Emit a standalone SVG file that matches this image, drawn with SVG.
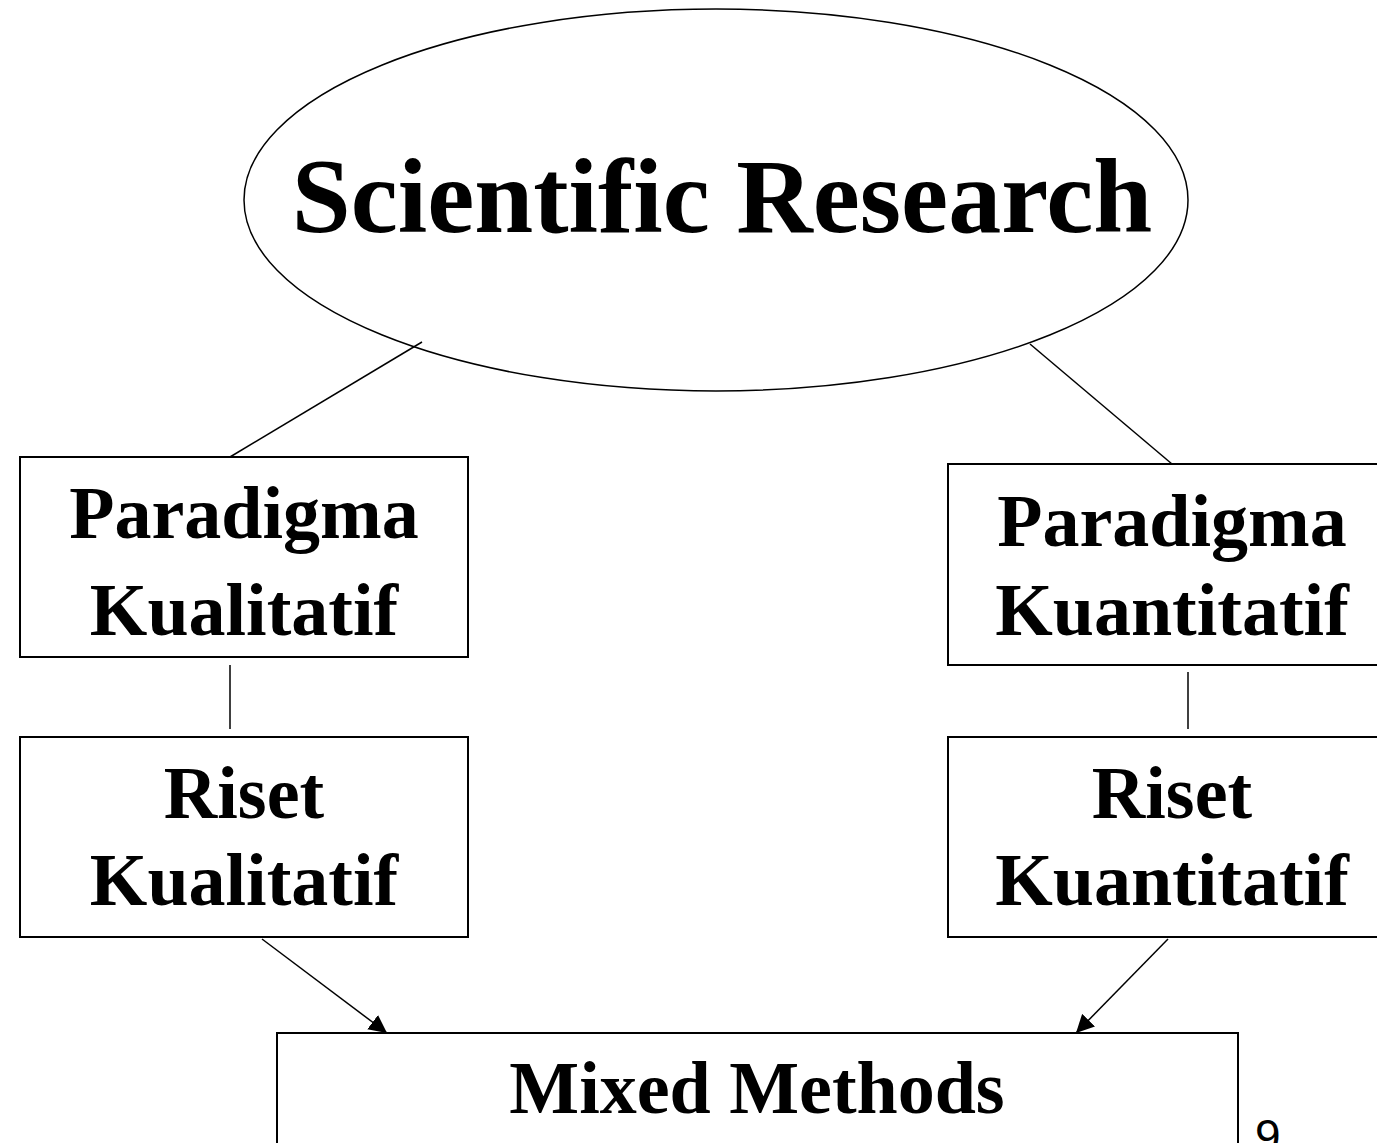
<svg xmlns="http://www.w3.org/2000/svg" width="1377" height="1143" viewBox="0 0 1377 1143">
<style>
.box{fill:#fff;stroke:#000;stroke-width:2}
.lbl{font-family:"Liberation Serif","Times New Roman",serif;font-weight:bold;fill:#000;text-anchor:middle}
.con{stroke:#000;stroke-width:1.5;fill:none}
</style>
<defs>
<marker id="ah" viewBox="0 0 10 10" refX="10" refY="5" markerWidth="18" markerHeight="18" markerUnits="userSpaceOnUse" orient="auto">
<path d="M0,0 L10,5 L0,10 z" fill="#000"/>
</marker>
</defs>
<rect width="1377" height="1143" fill="#fff"/>
<g id="scientific-research">
<ellipse cx="716" cy="200" rx="472" ry="191" fill="#fff" stroke="#000" stroke-width="1.5"/>
<text class="lbl" x="722" y="232" font-size="106">Scientific Research</text>
</g>
<g id="connectors">
<line class="con" x1="422" y1="342" x2="230" y2="457"/>
<line class="con" x1="1030" y1="344" x2="1172" y2="464"/>
<line class="con" x1="230" y1="665" x2="230" y2="729"/>
<line class="con" x1="1188" y1="672" x2="1188" y2="729"/>
<line class="con" x1="262" y1="939" x2="387" y2="1033" marker-end="url(#ah)"/>
<line class="con" x1="1168" y1="939" x2="1076" y2="1033" marker-end="url(#ah)"/>
</g>
<g id="paradigma-kualitatif">
<rect class="box" x="20" y="457" width="448" height="200"/>
<text class="lbl" x="244" y="538" font-size="74">Paradigma</text>
<text class="lbl" x="244" y="635" font-size="74">Kualitatif</text>
</g>
<g id="paradigma-kuantitatif">
<rect class="box" x="948" y="464" width="440" height="201"/>
<text class="lbl" x="1172" y="546" font-size="74">Paradigma</text>
<text class="lbl" x="1172" y="635" font-size="74">Kuantitatif</text>
</g>
<g id="riset-kualitatif">
<rect class="box" x="20" y="737" width="448" height="200"/>
<text class="lbl" x="244" y="818" font-size="74">Riset</text>
<text class="lbl" x="244" y="905" font-size="74">Kualitatif</text>
</g>
<g id="riset-kuantitatif">
<rect class="box" x="948" y="737" width="440" height="200"/>
<text class="lbl" x="1172" y="818" font-size="74">Riset</text>
<text class="lbl" x="1172" y="905" font-size="74">Kuantitatif</text>
</g>
<g id="mixed-methods">
<rect class="box" x="277" y="1033" width="961" height="140"/>
<text class="lbl" x="757" y="1113" font-size="74">Mixed Methods</text>
</g>
<text x="1255" y="1152" font-family="Liberation Sans, Arial, sans-serif" font-size="46" fill="#000">9</text>
</svg>
